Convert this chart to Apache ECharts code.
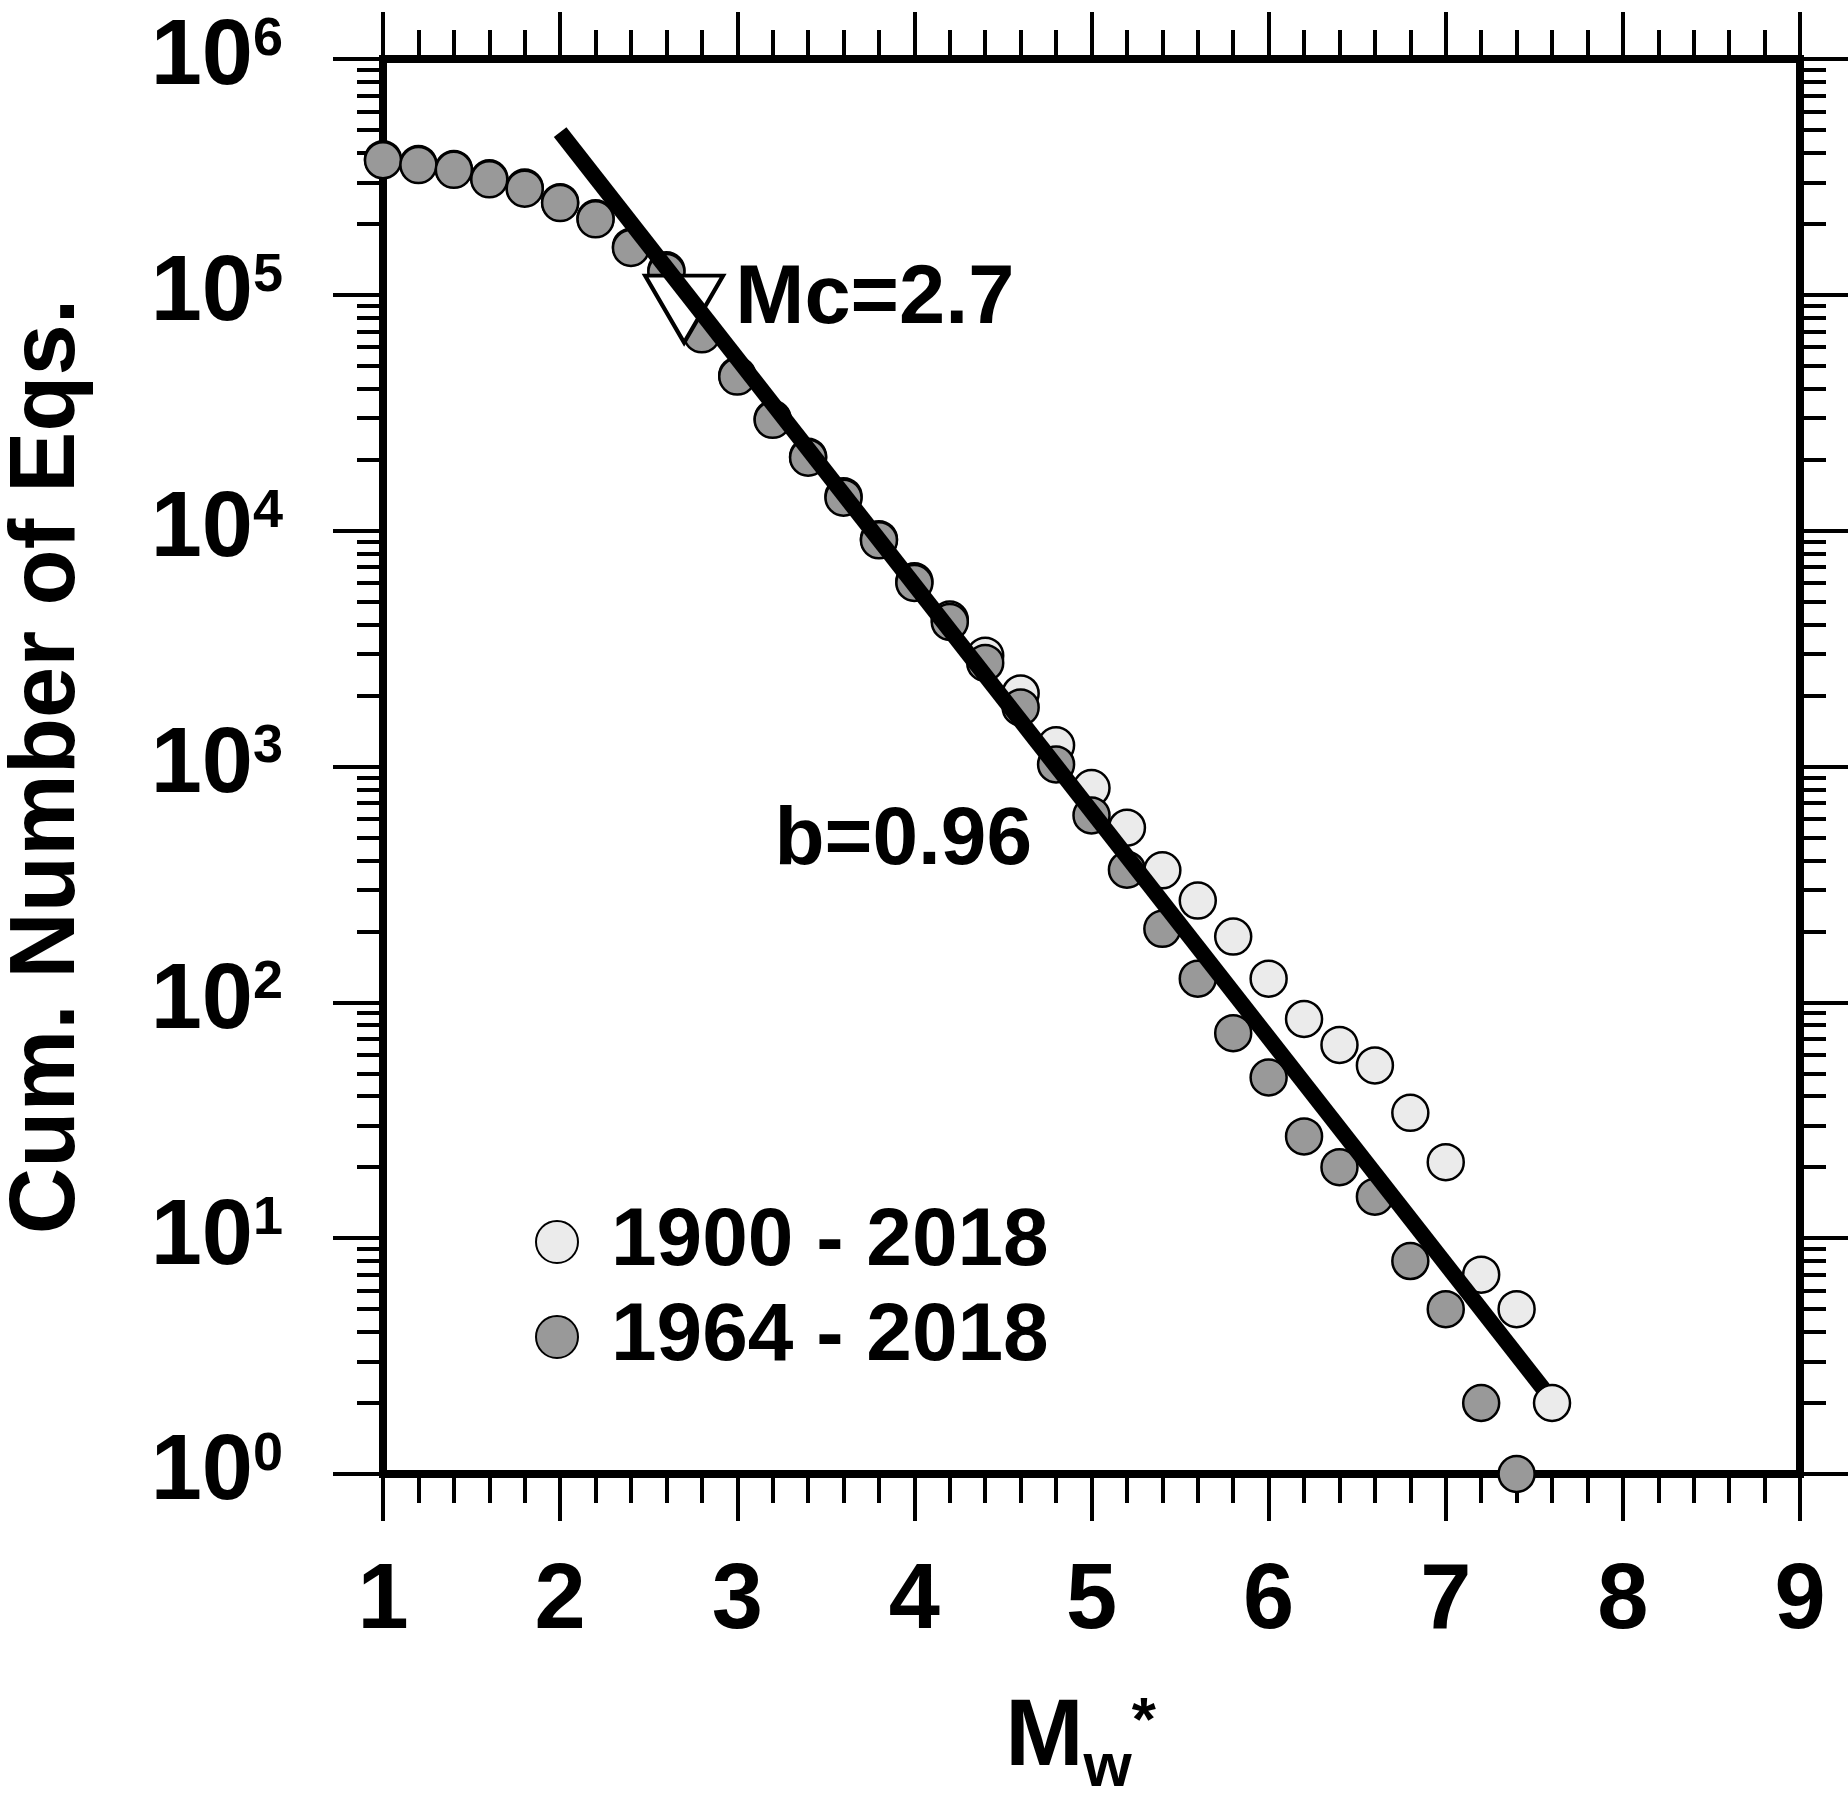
<!DOCTYPE html>
<html>
<head>
<meta charset="utf-8">
<script src="https://cdn.jsdelivr.net/npm/echarts@6/dist/echarts.min.js"></script>
<style>
  html, body { margin: 0; padding: 0; background: #fff; }
  #chart { width: 1848px; height: 1799px; }
</style>
</head>
<body>
<div id="chart"></div>
<script>
// magnitude bins (Mw*)
var mags = [1.0, 1.2, 1.4, 1.6, 1.8, 2.0, 2.2, 2.4, 2.6, 2.8, 3.0, 3.2, 3.4, 3.6, 3.8,
  4.0, 4.2, 4.4, 4.6, 4.8, 5.0, 5.2, 5.4, 5.6, 5.8, 6.0, 6.2, 6.4, 6.6, 6.8, 7.0, 7.2, 7.4, 7.6];

// cumulative counts, 1900 - 2018 catalogue
var count1900 = [376000, 359000, 342000, 312000, 285000, 247000, 211000, 160000, 127000, 69000,
  45500, 29800, 20600, 14000, 9200, 6100, 4200, 2950, 2040, 1230, 810, 550, 363, 270, 190,
  126, 85, 66, 54, 34, 21, 7, 5, 2];

// cumulative counts, 1964 - 2018 catalogue
var count1964 = [372000, 355000, 339000, 309000, 282000, 245000, 209000, 158000, 125000, 68000,
  45000, 29500, 20400, 13800, 9100, 6000, 4100, 2750, 1780, 1020, 620, 365, 205, 126, 74,
  48, 27, 20, 15, 8, 5, 2, 1];

// G-R fit line, b = 0.96
var fitMags = [2.0, 7.55];
var fitCounts = [490000, 2.3];

// completeness magnitude
var mcMag = 2.7;
var mcCount = 87000;

// where the b-value text sits
var bTextPos = [3.21, 480];

var xTicks = [1, 2, 3, 4, 5, 6, 7, 8, 9];
var yExponents = [0, 1, 2, 3, 4, 5, 6];

var FONT = 'Liberation Sans, Arial, Helvetica, sans-serif';

// log minor tick positions (in decades) for the helper value axes
var minorTicks = [];
for (var d = 0; d < yExponents.length - 1; d++) {
  for (var k = 2; k <= 9; k++) {
    minorTicks.push(yExponents[d] + Math.log10(k));
  }
}

function zip(xs, ys) {
  var out = [];
  for (var i = 0; i < ys.length; i++) out.push([xs[i], ys[i]]);
  return out;
}

var chart = echarts.init(document.getElementById('chart'));

var axisLine = { show: true, onZero: false, lineStyle: { color: '#000', width: 8, cap: 'square' } };

function xAxisDef(pos, showLabel) {
  return {
    type: 'value',
    position: pos,
    min: xTicks[0],
    max: xTicks[xTicks.length - 1],
    interval: 1,
    axisLine: axisLine,
    axisTick: { show: true, inside: false, length: 47, lineStyle: { color: '#000', width: 4 } },
    minorTick: { show: true, splitNumber: 5, length: 29, lineStyle: { color: '#000', width: 4 } },
    splitLine: { show: false },
    minorSplitLine: { show: false },
    axisLabel: {
      show: showLabel,
      margin: 83,
      fontSize: 92,
      fontWeight: 'bold',
      fontFamily: FONT,
      color: '#000'
    }
  };
}

function yLogAxis(pos, showLabel) {
  return {
    type: 'log',
    logBase: 10,
    position: pos,
    min: Math.pow(10, yExponents[0]),
    max: Math.pow(10, yExponents[yExponents.length - 1]),
    splitNumber: 6,
    axisLine: axisLine,
    axisTick: { show: true, inside: false, length: 50, lineStyle: { color: '#000', width: 4 } },
    splitLine: { show: false },
    axisLabel: {
      show: showLabel,
      margin: 100,
      formatter: function (v) {
        return '{b|10}{s|' + Math.round(Math.log10(v)) + '}';
      },
      rich: {
        b: { fontSize: 92, fontWeight: 'bold', fontFamily: FONT, color: '#000', lineHeight: 92 },
        s: { fontSize: 54, fontWeight: 'bold', fontFamily: FONT, color: '#000', lineHeight: 62, verticalAlign: 'top' }
      }
    }
  };
}

function yMinorAxis(pos) {
  return {
    type: 'value',
    position: pos,
    min: yExponents[0],
    max: yExponents[yExponents.length - 1],
    axisLine: { show: false },
    axisTick: { show: true, inside: false, length: 26, customValues: minorTicks,
      lineStyle: { color: '#000', width: 4 } },
    axisLabel: { show: false },
    splitLine: { show: false }
  };
}

var yTitle = yLogAxis('left', true);
yTitle.name = 'Cum. Number of Eqs.';
yTitle.nameLocation = 'middle';
yTitle.nameRotate = 90;
yTitle.nameGap = 288;
yTitle.nameTextStyle = { fontSize: 92, fontWeight: 'bold', fontFamily: FONT, color: '#000' };

var xBottom = xAxisDef('bottom', true);
xBottom.name = '{m|M}{w|w}{s|*}';
xBottom.nameLocation = 'middle';
xBottom.nameGap = 218;
xBottom.nameTextStyle = {
  padding: [0, 22, 0, 0],
  rich: {
    m: { fontSize: 94, fontWeight: 'bold', fontFamily: FONT, color: '#000', lineHeight: 94, verticalAlign: 'top' },
    w: { fontSize: 62, fontWeight: 'bold', fontFamily: FONT, color: '#000', lineHeight: 62, verticalAlign: 'top',
      padding: [46, 0, 0, 0] },
    s: { fontSize: 62, fontWeight: 'bold', fontFamily: FONT, color: '#000', lineHeight: 62, verticalAlign: 'top' }
  }
};

var option = {
  backgroundColor: '#fff',
  animation: false,
  grid: { left: 383, right: 48, top: 59, bottom: 325, containLabel: false, outerBoundsMode: 'none' },
  legend: {
    orient: 'vertical',
    left: 530,
    top: 1196,
    icon: 'circle',
    itemWidth: 42,
    itemHeight: 42,
    itemGap: 13,
    data: ['1900 - 2018', '1964 - 2018'],
    textStyle: {
      fontSize: 82, fontWeight: 'bold', fontFamily: FONT, color: '#000',
      lineHeight: 82, padding: [0, 0, 0, 28]
    }
  },
  xAxis: [xBottom, xAxisDef('top', false)],
  yAxis: [yTitle, yMinorAxis('left'), yLogAxis('right', false), yMinorAxis('right')],
  series: [
    {
      name: '1900 - 2018',
      type: 'scatter',
      symbol: 'circle',
      symbolSize: 36,
      itemStyle: { color: '#ebebeb', borderColor: '#000', borderWidth: 2.5, opacity: 1 },
      data: zip(mags, count1900)
    },
    {
      name: '1964 - 2018',
      type: 'scatter',
      symbol: 'circle',
      symbolSize: 36,
      itemStyle: { color: '#999999', borderColor: '#000', borderWidth: 2.5, opacity: 1 },
      data: zip(mags, count1964)
    },
    {
      name: 'fit',
      type: 'line',
      symbol: 'none',
      lineStyle: { color: '#000', width: 16, cap: 'butt' },
      data: zip(fitMags, fitCounts)
    },
    {
      name: 'Mc',
      type: 'scatter',
      symbol: 'triangle',
      symbolRotate: 180,
      symbolSize: [78, 67],
      itemStyle: { color: '#fff', borderColor: '#000', borderWidth: 4, opacity: 1 },
      label: {
        show: true,
        position: 'right',
        distance: 10,
        offset: [0, -9],
        formatter: 'Mc=' + mcMag,
        fontSize: 83, fontWeight: 'bold', fontFamily: FONT, color: '#000'
      },
      data: [[mcMag, mcCount]]
    },
    {
      name: 'bval',
      type: 'scatter',
      symbolSize: 0,
      silent: true,
      itemStyle: { opacity: 1 },
      label: {
        show: true,
        position: 'right',
        distance: 0,
        formatter: 'b=0.96',
        fontSize: 82, fontWeight: 'bold', fontFamily: FONT, color: '#000'
      },
      data: [bTextPos]
    }
  ]
};

chart.setOption(option);
</script>
</body>
</html>
